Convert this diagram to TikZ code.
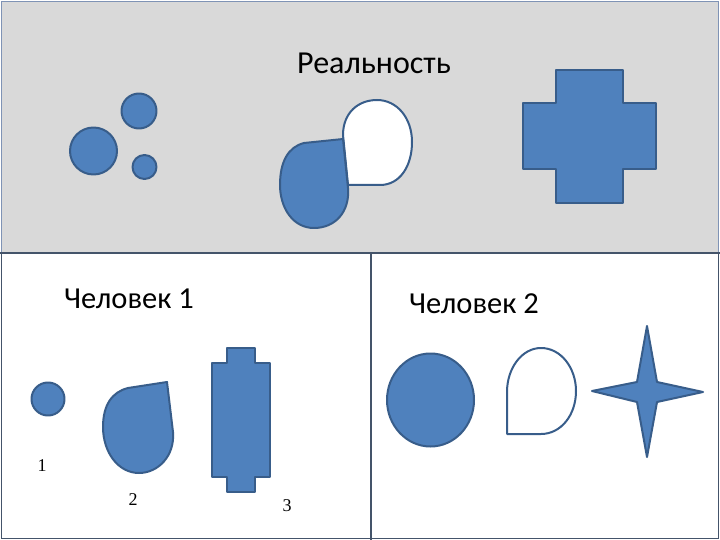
\documentclass[tikz,border=0pt]{standalone}
\usepackage{fontspec}
\setmainfont{Carlito}
\newfontfamily\digitfont{Liberation Serif}
\definecolor{shapefill}{HTML}{4F81BD}
\definecolor{shapeline}{HTML}{385D8A}
\definecolor{panelgray}{HTML}{D9D9D9}
\definecolor{frameline}{HTML}{44546A}
\definecolor{topframe}{HTML}{7F93B5}
\tikzset{
  blueshape/.style={fill=shapefill, draw=shapeline, line width=2pt, line join=round},
  whiteshape/.style={fill=white, draw=shapeline, line width=2pt, line join=round},
  title/.style={font=\fontsize{30.5}{34}\selectfont, text=black, inner sep=0pt},
  numlabel/.style={font=\digitfont\fontsize{18}{20}\selectfont, text=black, inner sep=0pt}
}
\begin{document}
\begin{tikzpicture}[x=1pt,y=-1pt]
\useasboundingbox (0,0) rectangle (720,540);
% panels
\fill[white] (0,0) rectangle (720,540);
\draw[fill=panelgray, draw=topframe, line width=1pt] (1.5,1.5) rectangle (718.5,253);
\draw[frameline, line width=1.5pt] (1.5,253) -- (1.5,538.5) -- (718.5,538.5) -- (718.5,253);
\draw[frameline, line width=2pt] (0,253) -- (720,253);
\draw[frameline, line width=1.5pt] (371,253) -- (371,540);

% titles
\node[title, font=\fontsize{32}{36}\selectfont] (real) at (374,63) {Реальность};
\node[title] (p1) at (129,299) {Человек 1};
\node[title] (p2) at (474,304) {Человек 2};

% top: circles
\draw[blueshape] (93.5,151) circle (23.5);
\draw[blueshape] (139,111) circle (17.5);
\draw[blueshape] (144.5,167) circle (12);

% top: white teardrop (corner bottom-left)
\draw[whiteshape] (348,185) -- (343,135) .. controls (343,113) and (358,100) .. (377,100)
  .. controls (397,100) and (412,118) .. (412,142)
  .. controls (412,166) and (400,185) .. (380,185) -- cycle;
% top: blue teardrop (corner top-right)
\draw[blueshape] (343,139) -- (348,188) .. controls (350,212) and (335,228) .. (314,228)
  .. controls (293,228) and (280,208) .. (280,185)
  .. controls (280,162) and (288,147) .. (304,143) -- cycle;

% top: cross
\draw[blueshape] (556,70) -- (623,70) -- (623,103) -- (656,103) -- (656,169) -- (623,169)
  -- (623,203) -- (556,203) -- (556,169) -- (523,169) -- (523,103) -- (556,103) -- cycle;

% bottom left: shapes
\draw[blueshape] (48,399) circle (16.5);
\draw[blueshape] (167,382) -- (173,432) .. controls (175,456) and (158,473) .. (139,473)
  .. controls (118,473) and (103,452) .. (103,427)
  .. controls (103,405) and (112,392) .. (128,388) -- cycle;
\draw[blueshape] (227,348) -- (255,348) -- (255,363) -- (270,363) -- (270,477) -- (255,477)
  -- (255,492) -- (227,492) -- (227,477) -- (212,477) -- (212,363) -- (227,363) -- cycle;

\node[numlabel] (n1) at (42,466) {1};
\node[numlabel] (n2) at (133,500) {2};
\node[numlabel] (n3) at (287,506) {3};

% bottom right: shapes
\draw[blueshape] (430.5,400) ellipse (43.5 and 46.5);
\draw[whiteshape] (507,434) -- (507,392) .. controls (507,368) and (522,348) .. (541,348)
  .. controls (561,348) and (576,368) .. (576,391)
  .. controls (576,415) and (561,434) .. (541,434) -- cycle;
\draw[blueshape] (647,326) -- (657,382) -- (703,392) -- (657,402) -- (647,457)
  -- (637,402) -- (592,391) -- (637,382) -- cycle;
\end{tikzpicture}
\end{document}
